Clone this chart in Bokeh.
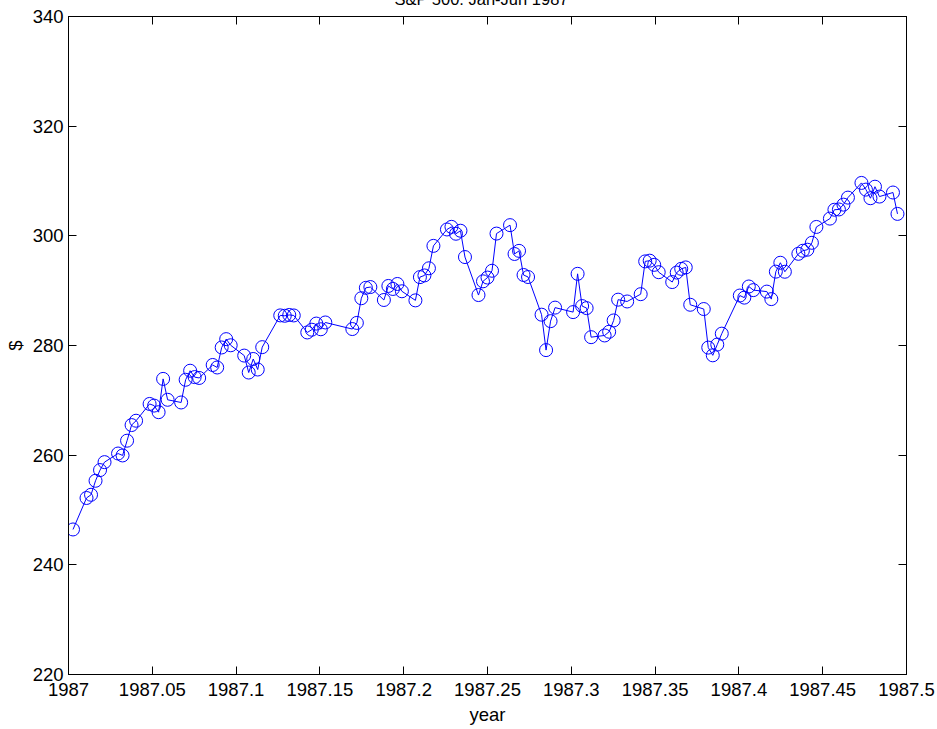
from bokeh.plotting import figure
from bokeh.models import LinearAxis, FixedTicker, CustomJSTickFormatter, Range1d, ColumnDataSource
from bokeh.embed import file_html
from bokeh.resources import INLINE

# S&P 500 daily closes, Jan-Jun 1987
jan_days = [2, 5, 6, 7, 8, 9, 12, 13, 14, 15, 16, 19, 20, 21, 22, 23, 26, 27, 28, 29, 30]
jan_close = [246.45, 252.19, 252.78, 255.33, 257.28, 258.73, 260.30, 259.95, 262.64, 265.49, 266.28,
             269.34, 269.04, 267.84, 273.91, 270.10, 269.61, 273.75, 275.40, 274.24, 274.08]
feb_days = [2, 3, 4, 5, 6, 9, 10, 11, 12, 13, 17, 18, 19, 20, 23, 24, 25, 26, 27]
feb_close = [276.45, 275.99, 279.64, 281.16, 280.04, 278.16, 275.07, 277.54, 275.62, 279.70,
             285.49, 285.42, 285.57, 285.48, 282.38, 282.88, 284.00, 282.96, 284.20]
mar_days = [2, 3, 4, 5, 6, 9, 10, 11, 12, 13, 16, 17, 18, 19, 20, 23, 24, 25, 26, 27, 30, 31]
mar_close = [283.00, 284.12, 288.62, 290.52, 290.66, 288.30, 290.86, 290.31, 291.22, 289.89, 288.23,
             292.47, 292.78, 294.08, 298.17, 301.16, 301.64, 300.38, 300.93, 296.13, 289.20, 291.70]
apr_days = [1, 2, 3, 6, 7, 8, 9, 10, 13, 14, 15, 16, 20, 21, 22, 23, 24, 27, 28, 29, 30]
apr_close = [292.39, 293.63, 300.41, 301.95, 296.69, 297.26, 292.86, 292.49, 285.62, 279.16, 284.44,
             286.91, 286.09, 293.07, 287.19, 286.82, 281.52, 281.83, 282.51, 284.57, 288.36]
may_days = [1, 4, 5, 6, 7, 8, 11, 12, 13, 14, 15, 18, 19, 20, 21, 22, 26, 27, 28, 29]
may_close = [288.03, 289.36, 295.34, 295.47, 294.71, 293.37, 291.57, 293.30, 293.98, 294.24,
             287.43, 286.65, 279.62, 278.21, 280.17, 282.16, 289.11, 288.73, 290.76, 290.10]
jun_days = [1, 2, 3, 4, 5, 8, 9, 10, 11, 12, 15, 16, 17, 18, 19, 22, 23, 24, 25, 26, 29, 30]
jun_close = [289.83, 288.46, 293.47, 295.09, 293.45, 296.72, 297.28, 297.47, 298.73, 301.62, 303.14,
             304.76, 304.81, 305.69, 306.97, 309.65, 308.43, 306.86, 308.96, 307.16, 307.90, 304.00]

x_ticks = [1987, 1987.05, 1987.1, 1987.15, 1987.2, 1987.25, 1987.3, 1987.35, 1987.4, 1987.45, 1987.5]
y_ticks = [220, 240, 260, 280, 300, 320, 340]
title_text = "S&P 500: Jan-Jun 1987"
x_label = "year"
y_label = "$"

months = [(1, jan_days, jan_close), (2, feb_days, feb_close), (3, mar_days, mar_close),
          (4, apr_days, apr_close), (5, may_days, may_close), (6, jun_days, jun_close)]
xs, ys = [], []
for m, dd, cc in months:
    for d, c in zip(dd, cc):
        xs.append(1987 + (m - 1) / 12 + (d - 1) / 372)
        ys.append(c)

src = ColumnDataSource(dict(x=xs, y=ys))

FONT = "Liberation Sans"
FS = "18.5px"
SHIFT = 40  # the page is shifted up so the title sits mostly above the window, as in the reference
p = figure(width=937, height=729 + SHIFT, x_range=Range1d(1987, 1987.5), y_range=Range1d(220, 340),
           output_backend="svg", toolbar_location=None,
           min_border_left=68, min_border_right=31, min_border_top=16 + SHIFT, min_border_bottom=55)
p.margin = (-SHIFT, 0, 0, 0)
p.grid.visible = False
p.outline_line_color = "black"
p.background_fill_color = "white"
p.border_fill_color = "white"

p.title.text = title_text
p.title.align = "left"
p.title.offset = 326
p.title.vertical_align = "bottom"
p.title.standoff = 18
p.title.text_font = FONT
p.title.text_font_size = "16.5px"
p.title.text_font_style = "normal"
p.title.text_color = "black"

for ax in (p.xaxis[0], p.yaxis[0]):
    ax.major_tick_in = 8
    ax.major_tick_out = 0
    ax.minor_tick_line_color = None
    ax.axis_line_color = "black"
    ax.major_tick_line_color = "black"
    ax.major_label_text_font = FONT
    ax.major_label_text_font_size = FS
    ax.major_label_text_color = "black"
    ax.axis_label_text_font = FONT
    ax.axis_label_text_font_size = FS
    ax.axis_label_text_font_style = "normal"
    ax.axis_label_text_color = "black"

p.xaxis[0].ticker = FixedTicker(ticks=x_ticks)
p.xaxis[0].formatter = CustomJSTickFormatter(code="return String(Math.round(tick*100)/100);")
p.xaxis[0].major_label_standoff = 8
p.xaxis[0].axis_label = x_label
p.xaxis[0].axis_label_standoff = 5
p.yaxis[0].ticker = FixedTicker(ticks=y_ticks)
p.yaxis[0].major_label_standoff = 5
p.yaxis[0].axis_label = y_label
p.yaxis[0].axis_label_standoff = 4

top = LinearAxis(ticker=FixedTicker(ticks=x_ticks), major_tick_in=8, major_tick_out=0,
                 minor_tick_line_color=None, major_label_text_font_size="0px",
                 major_label_standoff=0, axis_line_color="black")
right = LinearAxis(ticker=FixedTicker(ticks=y_ticks), major_tick_in=8, major_tick_out=0,
                   minor_tick_line_color=None, major_label_text_font_size="0px",
                   major_label_standoff=0, axis_line_color="black")
p.add_layout(top, "above")
p.add_layout(right, "right")

p.line("x", "y", source=src, line_color="#0000ff", line_width=1)
p.scatter("x", "y", source=src, marker="circle", size=13, fill_color=None,
          line_color="#0000ff", line_width=1)

open("out.html", "w").write(file_html(p, INLINE))
